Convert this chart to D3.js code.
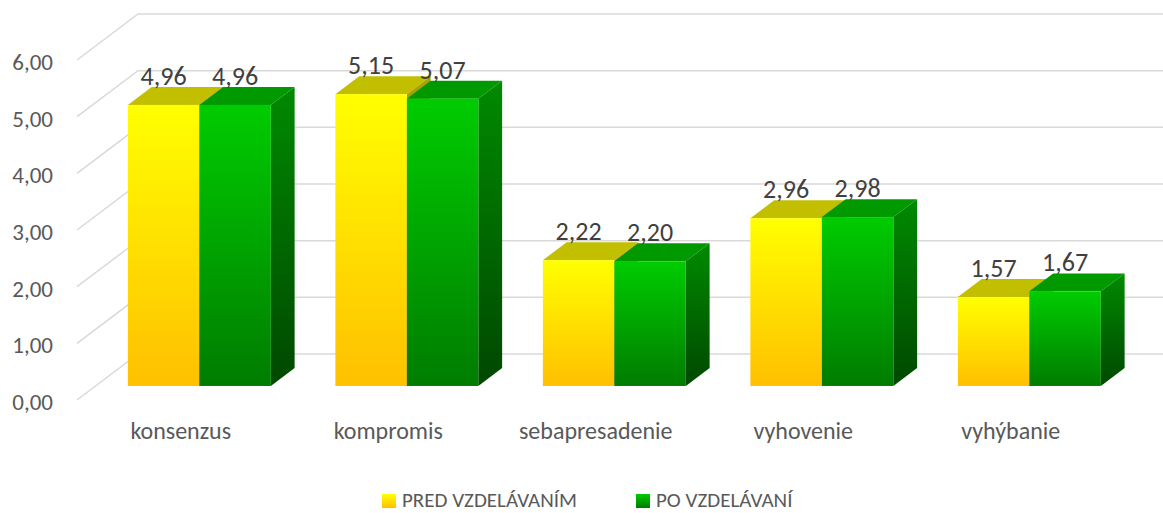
<!DOCTYPE html>
<meta charset="utf-8">
<style>
body { margin: 0; background: #fff; }
text { font-family: Calibri, Carlito, Lato, sans-serif; }
.grid { fill: none; stroke: #d9d9d9; stroke-width: 1.5; }
.tick { fill: #595959; font-size: 23px; }
.cat { fill: #595959; font-size: 24px; }
.val { fill: #404040; font-size: 26px; }
.leg { fill: #595959; font-size: 21px; }
</style>
<body>
<svg width="1163" height="513"></svg>
<script src="https://cdn.jsdelivr.net/npm/d3@7"></script>
<script>

var categories = ["konsenzus", "kompromis", "sebapresadenie", "vyhovenie", "vyhýbanie"];
var series = ["PRED VZDELÁVANÍM", "PO VZDELÁVANÍ"];
var pred = [4.96, 5.15, 2.22, 2.96, 1.57];
var po = [4.96, 5.07, 2.20, 2.98, 1.67];
var ticks = [0, 1, 2, 3, 4, 5, 6];

var svg = d3.select("svg");
var fmt = function(v) { return v.toFixed(2).replace(".", ","); };

// front plane of the 3d box
var y = d3.scaleLinear().domain([0, 6]).range([400, 60]);
var x = d3.scaleBand().domain(categories).range([77, 1114.5])
    .paddingInner(0.311).paddingOuter(0.1555);
var xs = d3.scaleBand().domain(series).range([0, x.bandwidth()]);

// depth vector of the whole box and bar slab inside it
var depth = [61, -46];
var f1 = 0.305, f2 = 0.695;
function off(f) { return [depth[0] * f, depth[1] * f]; }

var defs = svg.append("defs");
function grad(id, c1, c2) {
  var g = defs.append("linearGradient").attr("id", id)
      .attr("x1", 0).attr("y1", 0).attr("x2", 0).attr("y2", 1);
  g.append("stop").attr("offset", "0%").attr("stop-color", c1);
  g.append("stop").attr("offset", "100%").attr("stop-color", c2);
}
grad("yFront", "#ffff00", "#ffc000");
grad("gFront", "#00cc00", "#007c00");
grad("gSide", "#008a00", "#004800");
grad("ySide", "#a8a500", "#8a6a00");

var styles = [
  { front: "url(#yFront)", top: "#c2bf00", side: "url(#ySide)" },
  { front: "url(#gFront)", top: "#009a00", side: "url(#gSide)" }
];

// gridlines: side wall diagonal + back wall
var gridG = svg.append("g");
ticks.forEach(function(t) {
  var y0 = y(t);
  gridG.append("path").attr("class", "grid")
    .attr("d", "M" + x.range()[0] + "," + y0 +
               " L" + (x.range()[0] + depth[0]) + "," + (y0 + depth[1]) +
               " L1163," + (y0 + depth[1]));
  svg.append("text").attr("class", "tick")
    .attr("x", 53).attr("y", y0 + 2).attr("dy", "0.35em")
    .attr("text-anchor", "end").text(fmt(t));
});

var a = off(f1), b = off(f2);
var barsG = svg.append("g");
categories.forEach(function(c, i) {
  [pred[i], po[i]].forEach(function(v, s) {
    var xl = x(c) + xs(series[s]), xr = xl + xs.bandwidth();
    var yt = y(v), yb = y(0);
    var st = styles[s];
    var g = barsG.append("g");
    g.append("path").attr("fill", st.top)
      .attr("d", "M" + (xl + a[0]) + "," + (yt + a[1]) +
                 "L" + (xr + a[0]) + "," + (yt + a[1]) +
                 "L" + (xr + b[0]) + "," + (yt + b[1]) +
                 "L" + (xl + b[0]) + "," + (yt + b[1]) + "Z");
    g.append("path").attr("fill", st.side)
      .attr("d", "M" + (xr + a[0]) + "," + (yt + a[1]) +
                 "L" + (xr + b[0]) + "," + (yt + b[1]) +
                 "L" + (xr + b[0]) + "," + (yb + b[1]) +
                 "L" + (xr + a[0]) + "," + (yb + a[1]) + "Z");
    g.append("rect").attr("fill", st.front)
      .attr("x", xl + a[0]).attr("y", yt + a[1])
      .attr("width", xs.bandwidth()).attr("height", yb - yt);
  });
});

// value labels
categories.forEach(function(c, i) {
  [pred[i], po[i]].forEach(function(v, s) {
    svg.append("text").attr("class", "val")
      .attr("x", x(c) + xs(series[s]) + xs.bandwidth() / 2 + a[0])
      .attr("y", y(v) + a[1] - 20)
      .attr("text-anchor", "middle").text(fmt(v));
  });
});

// category labels
svg.selectAll(".cat").data(categories).enter().append("text")
  .attr("class", "cat")
  .attr("x", function(d) { return x(d) + x.bandwidth() / 2; })
  .attr("y", 439).attr("text-anchor", "middle")
  .text(function(d) { return d; });

// legend
var legX = [382, 636];
series.forEach(function(s, i) {
  svg.append("rect").attr("x", legX[i]).attr("y", 494)
    .attr("width", 14).attr("height", 14)
    .attr("fill", styles[i].front);
  svg.append("text").attr("class", "leg")
    .attr("x", legX[i] + 20).attr("y", 507)
    .text(s);
});

</script>
</body>
